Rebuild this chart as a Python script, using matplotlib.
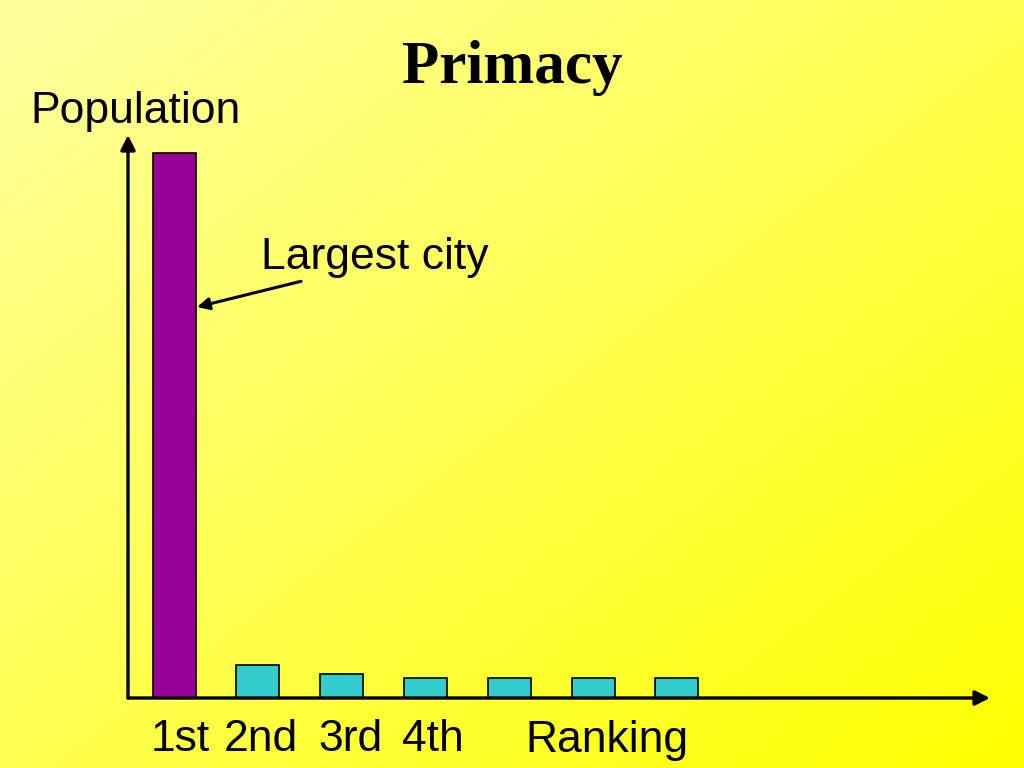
import matplotlib.pyplot as plt
import numpy as np

# data (relative population)
ranks = ['1st', '2nd', '3rd', '4th', '5th', '6th', '7th']
population = [545, 33, 24, 20, 20, 20, 20]
bar_colors = ['#990099', '#33CCCC', '#33CCCC', '#33CCCC', '#33CCCC', '#33CCCC', '#33CCCC']
shown_labels = ['1st', '2nd', '3rd', '4th']

fig = plt.figure(figsize=(10.24, 7.68), dpi=100)

# diagonal yellow gradient background
bg = fig.add_axes([0, 0, 1, 1])
xx, yy = np.meshgrid(np.linspace(0, 1, 256), np.linspace(0, 1, 256))
t = (xx + yy) / 2
top = np.array([255, 255, 160]) / 255
bot = np.array([255, 255, 0]) / 255
img = top[None, None, :] * (1 - t[..., None]) + bot[None, None, :] * t[..., None]
bg.imshow(img, extent=[0, 1, 0, 1], origin='upper', aspect='auto')
bg.set_xlim(0, 1)
bg.set_ylim(0, 1)
bg.axis('off')

ax = fig.add_axes([128 / 1024, 70 / 768, 862 / 1024, 563 / 768])
ax.patch.set_alpha(0)
x = np.arange(len(population))
ax.bar(x, population, width=0.515, color=bar_colors, edgecolor='black', linewidth=1.2, zorder=3)
ax.set_xlim(-0.55, 9.736)
ax.set_ylim(0, 563)
for s in ax.spines.values():
    s.set_visible(False)
ax.set_yticks([])
ax.set_xticks(x[:len(shown_labels)] + np.array([0.07, 0.037, 0.099, 0.09]))
ax.set_xticklabels(shown_labels, fontsize=32, family='Liberation Sans')
ax.tick_params(axis='x', length=0, pad=15)

# axis arrows
ax.annotate('', xy=(1.0, 0), xytext=(0, 0), xycoords='axes fraction',
            arrowprops=dict(arrowstyle='-|>', lw=2.4, color='black', mutation_scale=22,
                            shrinkA=0, shrinkB=0), annotation_clip=False)
ax.annotate('', xy=(0, 1.0), xytext=(0, 0), xycoords='axes fraction',
            arrowprops=dict(arrowstyle='-|>', lw=2.4, color='black', mutation_scale=22,
                            shrinkA=0, shrinkB=0), annotation_clip=False)

fig.text(607 / 1024, 1 - 752 / 768, 'Ranking', fontsize=32, family='Liberation Sans',
         ha='center', va='baseline')
fig.text(135 / 1024, 1 - 112 / 768, 'Population', fontsize=32, family='Liberation Sans',
         ha='center', va='center')
fig.text(512 / 1024, 1 - 68 / 768, 'Primacy', fontsize=44, family='Liberation Serif',
         weight='bold', ha='center', va='center')

# "Largest city" pointer
ax.annotate('Largest city', xy=(0.273, 391), xytext=(2.39, 440),
            fontsize=32, family='Liberation Sans', ha='center', va='center',
            arrowprops=dict(arrowstyle='-|>', lw=2.2, color='black', mutation_scale=18,
                            shrinkA=0, shrinkB=0, relpos=(0.3, 0.1)))

fig.savefig('out.png', dpi=100)
